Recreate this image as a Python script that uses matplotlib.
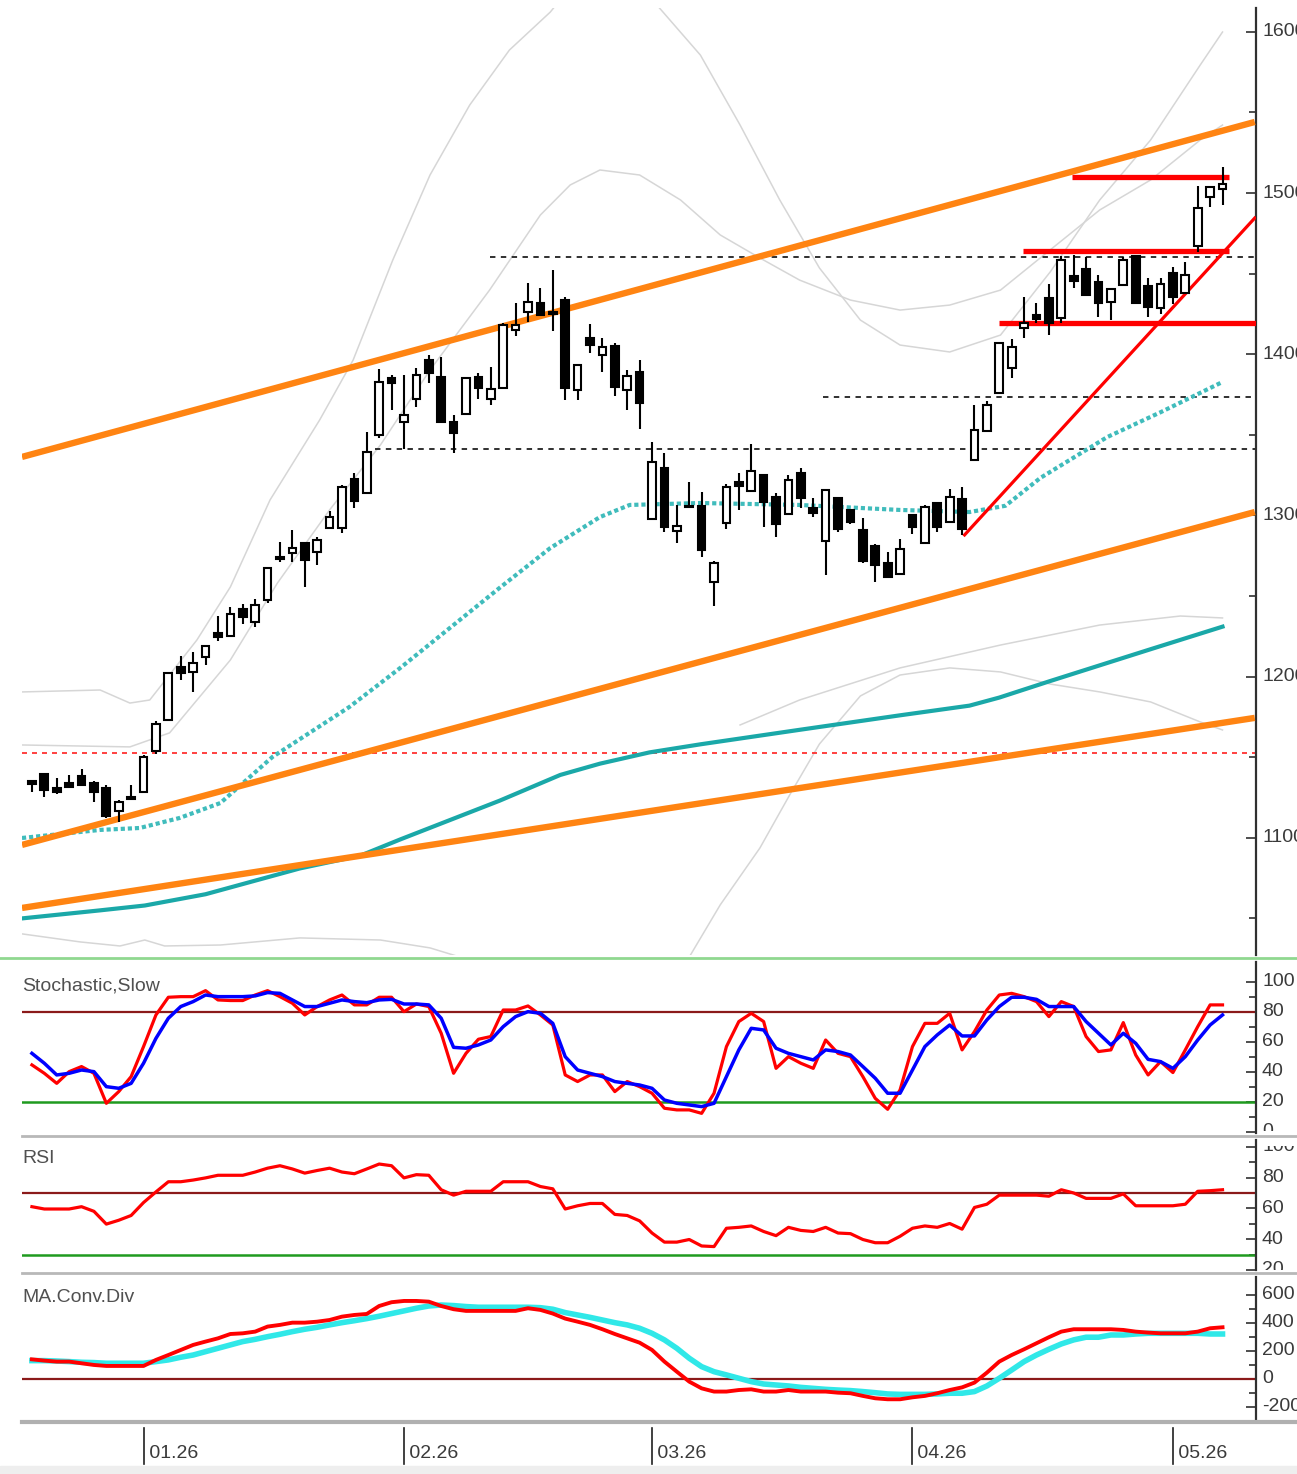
import numpy as np
import matplotlib
matplotlib.use("Agg")
import matplotlib.pyplot as plt
from matplotlib.lines import Line2D
from matplotlib.patches import Rectangle
from matplotlib.transforms import Bbox, TransformedBbox, blended_transform_factory

plt.rcParams["font.family"] = ["Liberation Sans Narrow", "Liberation Sans", "DejaVu Sans"]

# daily candles, index 0 = first full candle on the left
opens = [1135.3, 1139.4, 1130.7, 1134.2, 1138.4, 1134.2, 1131.1, 1116.9, 1125.5, 1128.6,
         1154.1, 1173.1, 1206.2, 1202.7, 1212.4, 1226.9, 1225.2, 1241.8, 1234.1, 1247.6,
         1274.4, 1276.5, 1283.1, 1277.1, 1292.0, 1292.0, 1322.4, 1314.1, 1349.9, 1385.1,
         1358.2, 1372.0, 1396.4, 1386.1, 1357.8, 1362.9, 1386.1, 1372.0, 1379.2, 1415.0,
         1426.4, 1431.6, 1425.8, 1433.6, 1377.8, 1409.9, 1399.5, 1405.1, 1377.8, 1389.2,
         1297.6, 1329.2, 1290.5, 1305.9, 1305.9, 1258.9, 1295.1, 1320.9, 1315.3, 1325.1,
         1311.6, 1300.9, 1326.5, 1304.4, 1284.3, 1310.6, 1303.4, 1291.0, 1281.0, 1270.3,
         1263.7, 1300.3, 1282.7, 1307.5, 1296.1, 1310.0, 1334.4, 1352.6, 1376.1, 1391.3,
         1416.1, 1424.3, 1434.7, 1422.3, 1448.5, 1452.7, 1445.0, 1432.6, 1442.9, 1460.9,
         1442.3, 1428.5, 1450.6, 1438.2, 1467.1, 1497.7, 1502.3]
highs = [1135.9, 1140.4, 1137.0, 1139.0, 1142.7, 1135.5, 1132.8, 1123.5, 1132.8, 1151.4,
         1172.7, 1203.1, 1212.8, 1215.5, 1219.6, 1237.6, 1243.4, 1244.9, 1248.0, 1267.2,
         1283.7, 1291.0, 1283.7, 1286.8, 1302.9, 1318.9, 1326.5, 1351.9, 1390.7, 1387.1,
         1387.1, 1391.3, 1399.5, 1398.1, 1362.3, 1385.7, 1388.5, 1391.9, 1419.2, 1431.6,
         1444.0, 1440.9, 1452.3, 1435.3, 1393.3, 1418.8, 1409.9, 1406.8, 1390.2, 1396.4,
         1345.7, 1338.5, 1306.5, 1320.9, 1314.7, 1271.9, 1319.5, 1326.5, 1344.3, 1325.1,
         1313.7, 1325.1, 1329.2, 1310.6, 1316.2, 1310.6, 1303.4, 1298.4, 1282.3, 1277.5,
         1285.2, 1300.3, 1306.5, 1307.5, 1316.4, 1317.8, 1368.5, 1371.2, 1407.8, 1409.3,
         1435.3, 1431.6, 1443.6, 1460.9, 1461.6, 1460.5, 1449.2, 1440.3, 1460.5, 1460.9,
         1447.1, 1447.1, 1454.3, 1457.4, 1504.4, 1503.9, 1516.3]
lows = [1128.5, 1125.5, 1127.0, 1131.7, 1132.8, 1122.4, 1112.5, 1110.0, 1123.9, 1128.6,
        1152.0, 1172.7, 1197.9, 1190.7, 1207.2, 1222.1, 1225.2, 1232.5, 1231.0, 1245.5,
        1271.3, 1271.3, 1255.4, 1269.3, 1292.0, 1288.9, 1304.4, 1314.1, 1347.9, 1365.4,
        1341.0, 1367.5, 1382.0, 1358.2, 1338.9, 1362.9, 1372.0, 1368.5, 1379.2, 1411.3,
        1420.2, 1424.3, 1414.6, 1371.6, 1371.6, 1401.0, 1389.2, 1374.1, 1365.4, 1353.4,
        1297.6, 1289.9, 1282.7, 1305.1, 1274.0, 1243.8, 1291.4, 1303.4, 1315.3, 1293.0,
        1286.8, 1300.9, 1304.4, 1299.2, 1263.1, 1289.9, 1294.7, 1270.7, 1258.9, 1262.0,
        1263.7, 1288.5, 1282.7, 1289.9, 1296.1, 1287.9, 1334.4, 1352.6, 1376.1, 1385.1,
        1409.9, 1419.2, 1411.9, 1419.2, 1440.9, 1436.7, 1423.3, 1421.2, 1442.9, 1432.0,
        1423.3, 1425.0, 1431.2, 1438.2, 1463.6, 1491.5, 1492.6]
closes = [1133.4, 1129.7, 1128.3, 1131.7, 1132.8, 1128.6, 1113.6, 1122.1, 1123.9, 1150.0,
          1170.6, 1202.1, 1202.5, 1208.7, 1219.2, 1224.8, 1238.7, 1236.8, 1244.5, 1267.2,
          1272.8, 1280.0, 1272.4, 1284.8, 1299.2, 1317.8, 1309.1, 1339.5, 1383.0, 1382.0,
          1362.3, 1387.1, 1388.2, 1358.2, 1351.0, 1385.1, 1378.9, 1378.3, 1418.1, 1418.1,
          1432.6, 1424.3, 1425.0, 1378.9, 1393.3, 1405.7, 1404.7, 1379.9, 1386.5, 1369.9,
          1333.3, 1293.0, 1293.6, 1305.1, 1278.6, 1270.3, 1317.5, 1318.3, 1327.8, 1308.5,
          1294.7, 1322.0, 1310.6, 1301.3, 1315.8, 1291.4, 1296.1, 1271.9, 1269.3, 1262.0,
          1279.0, 1293.0, 1305.4, 1293.0, 1311.6, 1291.4, 1353.0, 1368.5, 1406.8, 1404.7,
          1419.6, 1421.7, 1419.6, 1458.5, 1445.6, 1436.7, 1432.0, 1440.3, 1458.5, 1432.0,
          1429.1, 1443.6, 1435.3, 1449.2, 1490.5, 1503.9, 1505.6]

# moving averages, read at sparse candle positions
ma_short_idx = [-0.8, 5.5, 8.7, 11.9, 15.2, 19.4, 25.6, 29.7, 33.7, 37.7, 41.8, 45.8, 48.2,
                53.9, 61.9, 70.0, 75.6, 78.5, 81.3, 86.7, 91.0, 96.0]
ma_short_val = [1099.9, 1104.9, 1106.1, 1112.3, 1121.6, 1150.2, 1181.2, 1205.4, 1230.2, 1255.0,
                1279.8, 1299.0, 1306.5, 1307.7, 1306.5, 1303.4, 1302.1, 1306.0, 1323.2, 1348.6,
                1364.0, 1382.8]
ma_long_idx = [-0.8, 5.5, 9.1, 14, 21.6, 26.5, 29.7, 37.7, 42.6, 45.8, 49.8, 53.9, 61.9, 70, 75.6, 78, 82, 86.1, 90.2, 96]
ma_long_val = [1050, 1055, 1058, 1065, 1081, 1089, 1099, 1123, 1139, 1146, 1153, 1158, 1167, 1176, 1182, 1187, 1197, 1207, 1217, 1231]

# grey envelope curves, sparse
env_a_idx = [-0.8, 5.5, 7.9, 9.5, 13.3, 16.0, 19.2, 23.2, 25.9, 29.1, 32.1, 35.3, 38.5, 41.8,
             44.2, 48.2, 50.6, 53.9, 57.1, 60.3, 63.5, 66.8, 70.0, 74.0, 78.1, 82.1, 86.1,
             90.2, 94.2, 96.0]
env_a_val = [1190.5, 1191.7, 1183.6, 1185.5, 1222.7, 1255.6, 1309.6, 1359.2, 1396.4, 1458.5,
             1511.2, 1554.6, 1588.7, 1612.3, 1635.2, 1635.2, 1614.8, 1585.6, 1542.2, 1495.7,
             1453.5, 1421.2, 1405.7, 1401.4, 1411.9, 1451.0, 1495.7, 1532.9, 1579.4, 1599.9]
env_b_idx = [-0.8, 7.9, 11.1, 16.0, 19.8, 24.0, 28.1, 32.1, 36.9, 41.0, 43.4, 45.8, 49.0,
             52.3, 55.5, 58.7, 61.9, 66.0, 70.0, 74.0, 78.1, 82.1, 86.1, 90.2, 94.2, 96.0]
env_b_val = [1157.6, 1156.4, 1165.1, 1210.3, 1258.1, 1303.4, 1343.7, 1390.2, 1439.8, 1486.4,
             1505.0, 1514.3, 1511.2, 1495.7, 1474.0, 1459.7, 1446.0, 1433.6, 1427.4, 1430.5,
             1439.8, 1464.7, 1489.5, 1508.1, 1532.9, 1542.2]
env_c_idx = [52.3, 53.1, 55.5, 58.7, 61.1, 63.5, 66.8, 70.0, 74.0, 78.1, 82.1, 86.1, 90.2, 94.2, 96.0]
env_c_val = [1014.9, 1027.3, 1058.4, 1093.7, 1126.6, 1158.2, 1188.0, 1201.0, 1205.4, 1202.9,
             1195.4, 1190.5, 1184.3, 1171.9, 1166.9]
env_d_idx = [57.1, 61.9, 70.0, 78.1, 86.1, 92.6, 96.0]
env_d_val = [1170.0, 1185.5, 1205.4, 1219.6, 1232.0, 1237.6, 1236.4]
env_e_idx = [-0.8, 3.9, 7.1, 9.1, 10.7, 15.2, 21.6, 28.1, 32.1, 35.3]
env_e_val = [1040.4, 1035.4, 1032.9, 1036.6, 1032.9, 1033.5, 1037.9, 1036.6, 1031.7, 1024.2]

# trend lines (candle index, price)
orange_1 = ([-0.8, 98.6], [1336.3, 1544.1])
orange_2 = ([-0.8, 98.6], [1095.6, 1302.1])
orange_3 = ([-0.8, 98.6], [1056.5, 1174.4])
red_diag = ([75.2, 98.6], [1287.9, 1484.5])
red_levels = [(83.9, 96.5, 1509.9), (79.9, 96.5, 1464.2), (78.0, 98.7, 1419.2)]
dotted_levels = [(36.9, 1460.3), (63.8, 1373.5), (27.7, 1341.5)]
red_dotted_level = 1152.6

stoch_k = [44.7, 39.1, 32.4, 40.2, 43.6, 39.1, 19.1, 26.9, 36.9, 56.9,
           78.0, 89.8, 90.2, 90.2, 94.2, 88.0, 87.6, 87.6, 91.3, 94.2,
           90.2, 85.8, 78.0, 83.6, 88.0, 91.3, 84.7, 84.7, 89.8, 89.8,
           80.2, 85.3, 83.6, 65.8, 39.1, 52.4, 61.8, 63.6, 81.3, 81.3,
           84.0, 78.0, 71.3, 38.0, 33.6, 38.0, 38.0, 26.9, 33.6, 30.2,
           25.8, 15.8, 14.7, 14.7, 12.4, 25.8, 56.9, 73.6, 79.1, 73.6,
           42.4, 50.2, 45.8, 42.4, 61.3, 52.4, 50.2, 36.9, 22.4, 15.1,
           28.0, 56.9, 72.4, 72.4, 79.1, 54.7, 66.9, 81.3, 91.3, 92.4,
           90.2, 86.9, 76.9, 86.9, 83.6, 63.6, 53.6, 54.7, 72.9, 51.3,
           38.0, 46.9, 39.6, 54.7, 70.2, 84.7, 84.7]
stoch_d = [52.4, 45.8, 38.0, 39.1, 41.3, 40.2, 30.2, 29.1, 32.4, 45.8,
           62.4, 75.8, 83.6, 86.9, 91.3, 90.2, 90.2, 90.2, 90.7, 92.9,
           92.4, 88.0, 83.6, 83.6, 85.8, 88.0, 86.9, 86.2, 88.0, 88.4,
           85.3, 85.3, 84.7, 75.8, 56.4, 55.8, 58.0, 61.3, 70.2, 76.9,
           80.2, 79.1, 72.4, 50.2, 41.3, 39.1, 36.9, 33.6, 32.4, 31.3,
           29.1, 21.3, 19.1, 18.0, 16.9, 19.1, 36.9, 54.7, 69.1, 68.0,
           55.8, 52.4, 50.2, 48.0, 54.7, 53.6, 51.3, 43.6, 35.8, 25.8,
           25.8, 41.3, 56.9, 64.7, 71.3, 64.0, 64.0, 74.7, 83.6, 89.8,
           89.8, 88.4, 83.6, 83.6, 83.6, 73.6, 65.8, 58.0, 65.8, 59.1,
           48.4, 46.9, 42.4, 50.2, 61.3, 71.3, 78.0]
rsi = [61.1, 59.6, 59.6, 59.6, 61.1, 58.1, 49.8, 52.3, 55.4, 63.8,
       70.7, 77.3, 77.3, 78.4, 79.8, 81.5, 81.5, 81.5, 83.6, 86.1,
       87.7, 85.6, 82.9, 84.6, 86.1, 83.6, 82.5, 85.6, 88.8, 87.7,
       79.8, 81.9, 81.5, 72.1, 68.6, 71.1, 71.1, 71.1, 77.3, 77.3,
       77.3, 74.2, 72.7, 59.6, 61.7, 63.2, 63.2, 56.1, 55.4, 51.9,
       44.0, 38.1, 38.1, 39.8, 35.6, 35.2, 47.1, 47.7, 48.6, 45.0,
       42.3, 47.7, 45.7, 45.0, 47.7, 44.0, 43.6, 39.8, 37.7, 37.7,
       41.9, 47.1, 48.6, 47.7, 50.2, 46.5, 60.6, 62.7, 68.6, 68.6,
       68.6, 68.6, 67.9, 72.1, 70.0, 66.5, 66.5, 66.5, 69.4, 61.7,
       61.7, 61.7, 61.7, 62.7, 71.1, 71.5, 72.1]
macd = [140, 131, 124, 124, 112, 100, 93, 93, 93, 93,
        136, 171, 207, 243, 267, 290, 321, 326, 338, 374,
        386, 402, 402, 409, 421, 445, 457, 464, 521, 548,
        557, 557, 552, 521, 498, 486, 486, 486, 486, 486,
        505, 493, 467, 431, 409, 386, 355, 321, 290, 259,
        207, 124, 52, -19, -67, -90, -90, -79, -74, -90,
        -90, -79, -90, -90, -90, -98, -102, -121, -138, -145,
        -145, -131, -121, -102, -79, -60, -26, 45, 124, 171,
        212, 255, 298, 338, 355, 355, 355, 355, 350, 338,
        331, 326, 326, 326, 338, 362, 369]
signal = [131, 131, 128, 124, 119, 117, 112, 112, 112, 112,
          124, 136, 155, 171, 195, 219, 243, 267, 283, 302,
          319, 338, 355, 369, 386, 402, 416, 431, 448, 467,
          486, 505, 521, 528, 524, 517, 512, 512, 512, 512,
          512, 509, 498, 474, 457, 440, 421, 402, 386, 362,
          326, 279, 219, 148, 88, 52, 29, 5, -19, -36,
          -43, -50, -60, -67, -74, -79, -83, -90, -98, -107,
          -110, -110, -110, -107, -102, -102, -90, -50, 5, 64,
          124, 171, 212, 250, 279, 298, 298, 314, 314, 321,
          326, 326, 326, 326, 326, 321, 321]

month_idx = [9, 30, 50, 71, 92]
month_labels = ["01.26", "02.26", "03.26", "04.26", "05.26"]

W, H = 1297, 1474
fig = plt.figure(figsize=(W / 100, H / 100), dpi=100)
fig.patch.set_facecolor("white")


def box(x0, y0, x1, y1):
    return [x0 / W, 1 - y1 / H, (x1 - x0) / W, (y1 - y0) / H]


panels = [(8, 955), (962, 1133), (1140, 1270), (1277, 1420)]
# vertical windows in which the axis labels of each panel stay visible
label_windows = [(8, 955), (962, 1131), (1146, 1270), (1277, 1420)]
ax, ax_st, ax_rsi, ax_md = [fig.add_axes(box(22, t, 1256, b)) for t, b in panels]

xlim = (-0.8, 98.7)
txt = "#3a3a3a"
for a in (ax, ax_st, ax_rsi, ax_md):
    a.set_xlim(*xlim)
    a.set_facecolor("white")
    for s in ("top", "left", "bottom"):
        a.spines[s].set_visible(False)
    a.spines["right"].set_color("#303030")
    a.spines["right"].set_linewidth(1.6)
    a.yaxis.tick_right()
    a.tick_params(axis="y", direction="in", length=7, width=1.2, color="#303030",
                  labelright=False)
    a.tick_params(axis="y", which="minor", direction="in", length=5, width=1.2, color="#303030")
    a.set_xticks([])


def right_labels(a, win, values):
    # labels sit right of the axis line and are cut at the panel edges
    t, b = win
    clip = TransformedBbox(Bbox([[1256 / W, 1 - b / H], [1.0, 1 - t / H]]), fig.transFigure)
    tr = blended_transform_factory(a.transAxes, a.transData)
    for v in values:
        tx = a.text(1.0 + 6 / 1234, v, str(v), transform=tr, fontsize=14, color=txt,
                    ha="left", va="center")
        tx.set_clip_box(clip)
        tx.set_clip_on(True)


# ---- main price panel
ax.set_ylim(1027.3, 1614.8)
price_ticks = [1100, 1200, 1300, 1400, 1500, 1600]
ax.set_yticks(price_ticks)
ax.set_yticks([1050, 1150, 1250, 1350, 1450, 1550], minor=True)
right_labels(ax, label_windows[0], price_ticks)

for ex, ey in ((env_a_idx, env_a_val), (env_b_idx, env_b_val), (env_c_idx, env_c_val),
               (env_d_idx, env_d_val), (env_e_idx, env_e_val)):
    ax.plot(ex, ey, color="#d6d6d6", lw=1.1, zorder=1)

ax.plot(xlim, [red_dotted_level] * 2, color="#ff2020", lw=1.2, ls=(0, (3, 3)), zorder=2)
for i0, lv in dotted_levels:
    ax.plot([i0, xlim[1]], [lv, lv], color="#202020", lw=1.3, ls=(0, (3, 3)), zorder=2)

ax.plot(ma_long_idx, ma_long_val, color="#1aa8a8", lw=3.0, zorder=3)
ax.plot(ma_short_idx, ma_short_val, color="#40bcbc", lw=3.0, ls=(0, (1, 0.7)), zorder=3)

for xs, ys in (orange_1, orange_2, orange_3):
    ax.plot(xs, ys, color="#ff8412", lw=4.6, solid_capstyle="butt", zorder=4)

for i0, i1, lv in red_levels:
    ax.plot([i0, i1], [lv, lv], color="#ff0000", lw=3.8, solid_capstyle="butt", zorder=4)
ax.plot(red_diag[0], red_diag[1], color="#ff0000", lw=2.3, zorder=4)

idx = np.arange(len(closes))
o = np.array(opens)
c = np.array(closes)
up = c >= o
ax.vlines(idx, lows, highs, color="black", lw=1.5, zorder=5)
body_lo = np.minimum(o, c)
body_h = np.maximum(np.abs(c - o), 1.0)
ax.bar(idx, body_h, bottom=body_lo, width=0.62,
       color=np.where(up, "white", "black"), edgecolor="black", linewidth=1.5, zorder=6)

# ---- stochastic
ax_st.set_ylim(-0.7, 113.3)
st_ticks = [0, 20, 40, 60, 80, 100]
ax_st.set_yticks(st_ticks)
ax_st.set_yticks([10, 30, 50, 70, 90], minor=True)
right_labels(ax_st, label_windows[1], st_ticks)
ax_st.axhline(80, color="#8b1a1a", lw=1.6)
ax_st.axhline(20, color="#1f9a1f", lw=1.8)
ax_st.plot(idx, stoch_k, color="#ff0000", lw=2.3)
ax_st.plot(idx, stoch_d, color="#0000ff", lw=2.5)
ax_st.text(0.0, 0.86, "Stochastic,Slow", transform=ax_st.transAxes, fontsize=14,
           color="#505050", ha="left", va="center")

# ---- RSI
ax_rsi.set_ylim(23.1, 104.4)
rsi_ticks = [20, 40, 60, 80, 100]
ax_rsi.set_yticks(rsi_ticks)
ax_rsi.set_yticks([30, 50, 70, 90], minor=True)
right_labels(ax_rsi, label_windows[2], rsi_ticks)
ax_rsi.axhline(70, color="#8b1a1a", lw=1.6)
ax_rsi.axhline(30, color="#1f9a1f", lw=1.8)
ax_rsi.plot(idx, rsi, color="#ff0000", lw=2.3)
ax_rsi.text(0.0, 0.86, "RSI", transform=ax_rsi.transAxes, fontsize=14,
            color="#505050", ha="left", va="center")

# ---- MACD
ax_md.set_ylim(-293, 728)
md_ticks = [-200, 0, 200, 400, 600]
ax_md.set_yticks(md_ticks)
ax_md.set_yticks([-100, 100, 300, 500], minor=True)
right_labels(ax_md, label_windows[3], md_ticks)
ax_md.axhline(0, color="#8b1a1a", lw=1.6)
ax_md.plot(idx, signal, color="#30e8e8", lw=4.0)
ax_md.plot(idx, macd, color="#ff0000", lw=2.8)
ax_md.text(0.0, 0.86, "MA.Conv.Div", transform=ax_md.transAxes, fontsize=14,
           color="#505050", ha="left", va="center")

# separators
fig.add_artist(Line2D([0, 1], [1 - 958 / H] * 2, color="#90d890", lw=2.0))
for yy in (1136, 1273):
    fig.add_artist(Line2D([22 / W, 1], [1 - yy / H] * 2, color="#b8b8b8", lw=2.0))
fig.add_artist(Line2D([22 / W, 1], [1 - 1422 / H] * 2, color="#b0b0b0", lw=3.0))
fig.add_artist(Rectangle((0, 0), 1, 8 / H, transform=fig.transFigure,
                         color="#eeeeee", zorder=-1))

# month labels below the MACD panel
trans = blended_transform_factory(ax_md.transData, fig.transFigure)
for mi, lab in zip(month_idx, month_labels):
    fig.add_artist(Line2D([mi, mi], [1 - 1428 / H, 1 - 1464 / H], transform=trans,
                          color="#202020", lw=1.2))
    fig.text(mi, 1 - 1454 / H, " " + lab, transform=trans, fontsize=14,
             color=txt, ha="left", va="center")

fig.savefig("out.png", dpi=100, facecolor="white")
